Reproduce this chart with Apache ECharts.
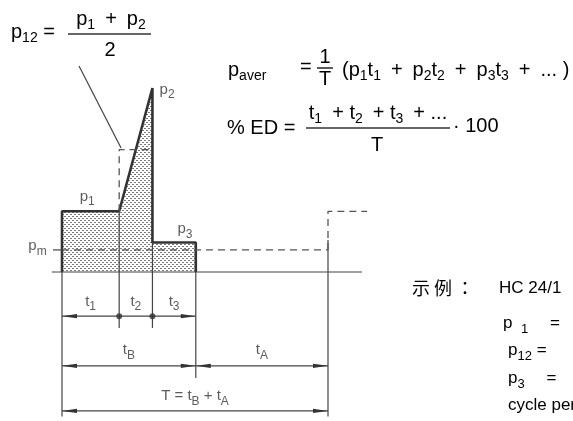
<!DOCTYPE html>
<html>
<head>
<meta charset="utf-8">
<script src="https://cdn.jsdelivr.net/npm/echarts/dist/echarts.min.js"></script>
<style>
html,body{margin:0;padding:0;background:#fff}
#main{width:573px;height:421px}
</style>
</head>
<body>
<div id="main"></div>
<script>
// 时间段 t1, t2, t3 及周期 T
var durations = [21.5, 12.5, 16.3];
var cycleT = 100;
// 功率 p1, p2, p3 和平均功率 pm
var powers = [33, 100, 16];
var meanPower = 12;
// 标注文字
var powerNames = ['p_{1}', 'p_{2}', 'p_{3}', 'p_{m}'];
var timeNames = ['t_{1}', 't_{2}', 't_{3}', 't_{B}', 't_{A}', 'T = t_{B} + t_{A}'];

var t1 = durations[0], t2 = durations[1], t3 = durations[2];
var tB = t1 + t2 + t3;
var p1 = powers[0], p2 = powers[1], p3 = powers[2];
var p12 = (p1 + p2) / 2;

// 尺寸标注行(基线以下)
var row1 = -24, row2 = -51, row3 = -75.5;

var FONT = 'Liberation Sans';
var INK = '#333';
var EN = '\u2002', EM = '\u2003';

// "p_{12}" -> rich text
function rt(str) {
	var out = '';
	var parts = str.split(/_\{([^}]*)\}/);
	for (var i = 0; i < parts.length; i++) {
		if (!parts[i]) continue;
		out += (i % 2 ? '{s|' : '{b|') + parts[i] + '}';
	}
	return out;
}

function makeRich(size, subSize, pad, color) {
	return {
		b: {fontFamily: FONT, fontSize: size, verticalAlign: 'top', color: color},
		s: {fontFamily: FONT, fontSize: subSize, verticalAlign: 'top', padding: [pad, 0, 0, 0], color: color}
	};
}

// 点状阴影
function dotPattern() {
	var c = document.createElement('canvas');
	c.width = 4; c.height = 4;
	var ctx = c.getContext('2d');
	ctx.fillStyle = '#fff';
	ctx.fillRect(0, 0, 4, 4);
	ctx.fillStyle = '#7a7a7a';
	ctx.fillRect(0, 0, 2, 1);
	ctx.fillRect(2, 2, 2, 1);
	return c;
}

var profile = [[0, 0], [0, p1], [t1, p1], [t1 + t2, p2], [t1 + t2, p3], [tB, p3], [tB, 0]];

var thinLines = [
	[[-3.8, 0], [112.8, 0]],
	[[0, 0], [0, -78.5]],
	[[t1, p1], [t1, -30.4]],
	[[t1 + t2, p3], [t1 + t2, -30.4]],
	[[tB, 0], [tB, -57.6]],
	[[cycleT, 17.4], [cycleT, -78.5]],
	[[-3.4, meanPower], [0, meanPower]],
	[[0, row1], [tB, row1]],
	[[0, row2], [cycleT, row2]],
	[[0, row3], [cycleT, row3]],
	[[t1 - 15.1, p12 + 45.5], [t1 + 0.7, p12 + 0.9]]
];
var dashLines = [
	[[0, meanPower], [cycleT, meanPower]],
	[[t1, p1], [t1, p12], [t1 + t2, p12]],
	[[cycleT, meanPower], [cycleT, p1], [cycleT + 14.7, p1]]
];
var arrows = [
	[0, row1, -1], [tB, row1, 1],
	[0, row2, -1], [tB, row2, 1], [tB, row2, -1], [cycleT, row2, 1],
	[0, row3, -1], [cycleT, row3, 1]
];

var labels = [
	{name: powerNames[0], value: [t1 * 0.44, p1 + 7]},
	{name: powerNames[1], value: [t1 + t2 + 5.5, p2 - 2]},
	{name: powerNames[2], value: [t1 + t2 + t3 * 0.75, p3 + 6.3]},
	{name: powerNames[3], value: [-9.2, meanPower + 1]},
	{name: timeNames[0], value: [t1 / 2, row1 + 7]},
	{name: timeNames[1], value: [t1 + t2 / 2, row1 + 7]},
	{name: timeNames[2], value: [t1 + t2 + t3 / 2, row1 + 7]},
	{name: timeNames[3], value: [tB / 2, row2 + 7.5]},
	{name: timeNames[4], value: [(tB + cycleT) / 2, row2 + 7.5]},
	{name: timeNames[5], value: [cycleT / 2, row3 + 7]}
];

var series = [];
series.push({
	type: 'line', data: profile, symbol: 'none', clip: false, silent: true, z: 2,
	lineStyle: {color: INK, width: 2.6},
	areaStyle: {color: {image: dotPattern(), repeat: 'repeat'}, opacity: 1}
});
thinLines.forEach(function(d) {
	series.push({type: 'line', data: d, symbol: 'none', clip: false, silent: true, z: 3,
		lineStyle: {color: '#444', width: 1.2}});
});
dashLines.forEach(function(d) {
	series.push({type: 'line', data: d, symbol: 'none', clip: false, silent: true, z: 3,
		lineStyle: {color: '#555', width: 1.3, type: [7, 5]}});
});
series.push({
	type: 'custom', data: arrows, clip: false, silent: true, z: 4,
	encode: {x: 0, y: 1},
	renderItem: function(params, api) {
		var pt = api.coord([api.value(0), api.value(1)]);
		var d = api.value(2);
		return {type: 'polygon', shape: {points: [[pt[0], pt[1]], [pt[0] - d * 15, pt[1] - 2.2], [pt[0] - d * 15, pt[1] + 2.2]]},
			style: {fill: INK}};
	}
});
series.push({
	type: 'scatter', data: [[t1, row1], [t1 + t2, row1]], symbolSize: 6, clip: false, silent: true, z: 5,
	itemStyle: {color: INK}
});
series.push({
	type: 'scatter', data: labels, symbolSize: 0, clip: false, silent: true, z: 5,
	label: {show: true, position: 'inside', formatter: function(p) { return rt(p.name); },
		rich: makeRich(15, 12, 6.5, '#333')}
});

// 公式 (像素位置)
var fRich = makeRich(20, 14, 9, '#1a1a1a');
var cRich = makeRich(17, 13, 8.5, '#1a1a1a');
function ftext(x, cy, str, align, rich, size) {
	return {type: 'text', x: x, y: cy - (size || 20) / 2, silent: true,
		style: {text: rt(str), rich: rich || fRich, align: align || 'left', verticalAlign: 'top'}};
}
function ctext(x, cy, str) {
	return ftext(x, cy, str, 'left', cRich, 17);
}
function bar(x1, x2, y) {
	return {type: 'line', silent: true, shape: {x1: x1, y1: y, x2: x2, y2: y}, style: {stroke: '#333', lineWidth: 1.6}};
}
var plus = EN + '+' + EN;
var cjk = {fontFamily: 'Noto Sans CJK SC', fontSize: 18, color: '#1a1a1a'};
var graphics = [
	ftext(11, 32, 'p_{12} ='),
	bar(68, 151, 34),
	ftext(111, 19, 'p_{1}' + plus + 'p_{2}', 'center'),
	ftext(110, 50, '2', 'center'),
	ftext(228, 70, 'p_{aver}'),
	ftext(300, 67, '='),
	bar(317, 333, 68),
	ftext(325, 57, '1', 'center'),
	ftext(325, 79, 'T', 'center'),
	ftext(342, 70, '(p_{1}t_{1}' + plus + 'p_{2}t_{2}' + plus + 'p_{3}t_{3}' + plus + '... )'),
	ftext(227, 128, '% ED ='),
	bar(306, 450, 128),
	ftext(378, 113, 't_{1}' + EN + '+ t_{2}' + EN + '+ t_{3}' + EN + '+ ...', 'center'),
	ftext(377, 145, 'T', 'center'),
	ftext(453, 126, '· 100'),
	{type: 'text', x: 412, y: 288, silent: true,
		style: {text: '{a|示}{a|例}{c|：}', verticalAlign: 'middle',
			rich: {a: {fontFamily: cjk.fontFamily, fontSize: 18, color: cjk.color, padding: [0, 4, 0, 0]},
				c: {fontFamily: 'Noto Sans CJK JP', fontSize: 18, color: cjk.color}}}},
	ctext(499, 288, 'HC 24/1'),
	ctext(503, 323, 'p' + EN + '_{1}' + EM + ' ='),
	ctext(508, 350, 'p_{12} ='),
	ctext(508, 378, 'p_{3}' + EM + ' ='),
	ctext(508, 405, 'cycle period')
];

var chart = echarts.init(document.getElementById('main'), null, {renderer: 'canvas'});
// x: 2.66 px/单位, y: 1.84 px/单位; 基线 y=272, 起点 x=62
chart.setOption({
	animation: false,
	backgroundColor: '#fff',
	grid: {left: 35.4, top: 42, width: 345.8, height: 386.4, outerBoundsMode: 'none'},
	xAxis: {type: 'value', min: -10, max: 120, show: false},
	yAxis: {type: 'value', min: -85, max: 125, show: false},
	series: series,
	graphic: graphics
});
</script>
</body>
</html>
